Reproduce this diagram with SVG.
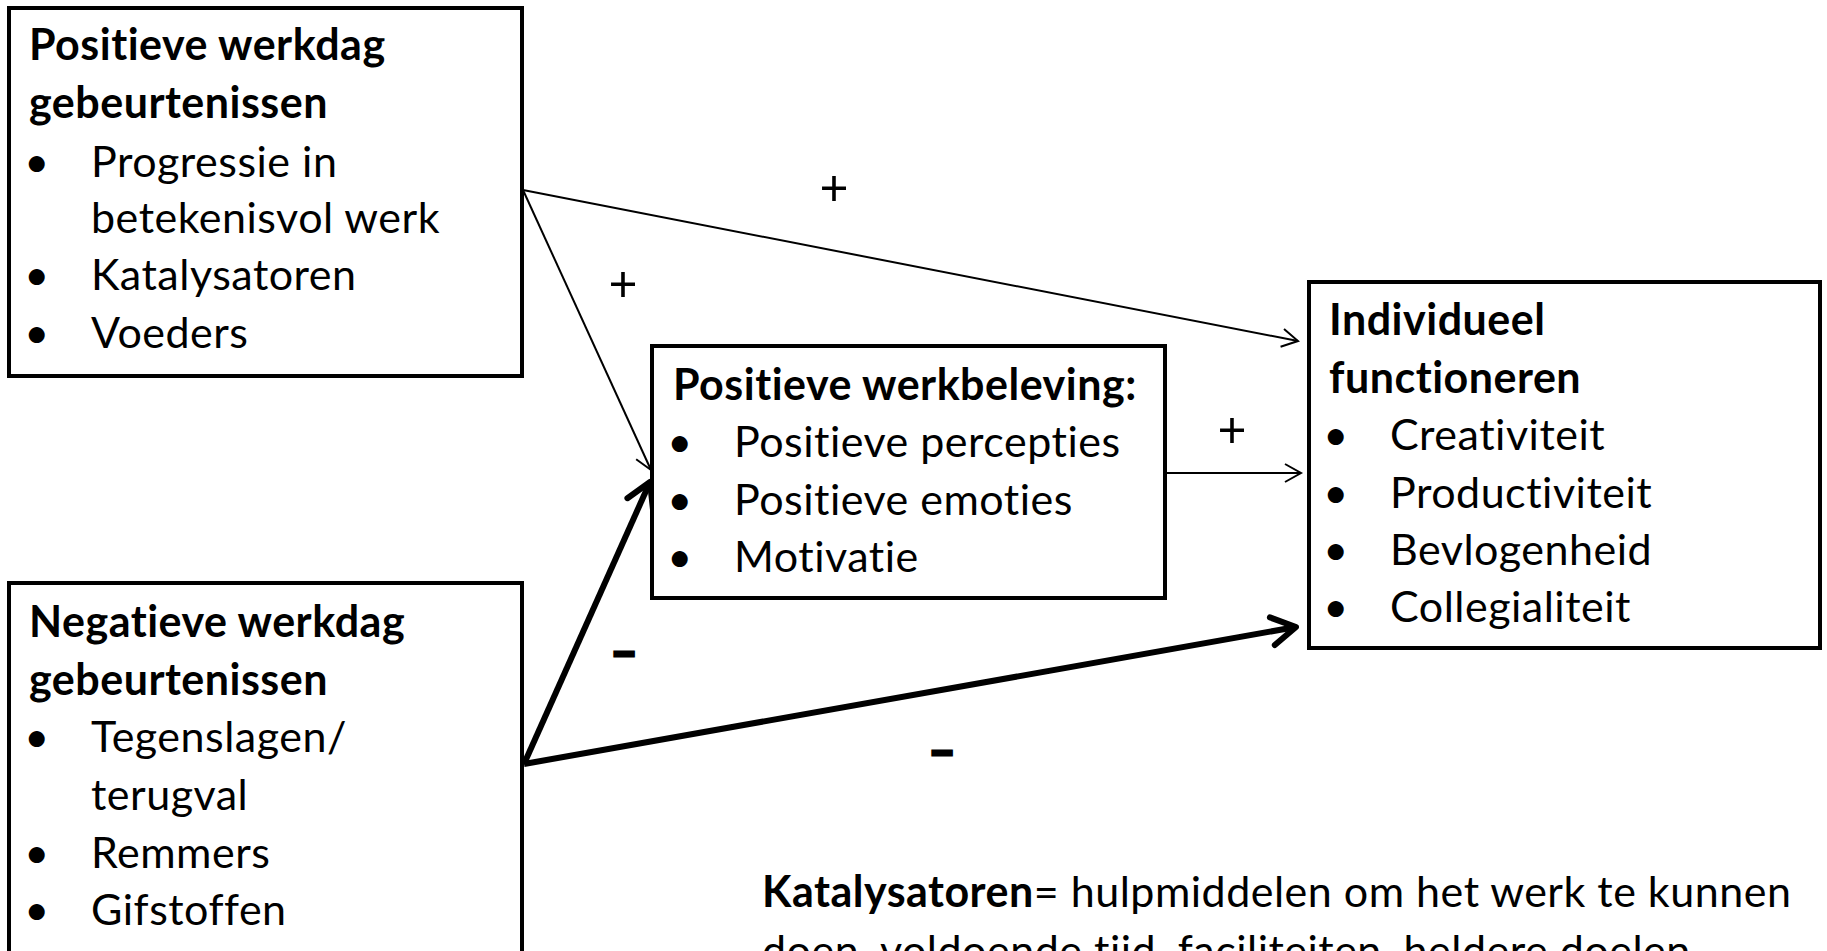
<svg xmlns="http://www.w3.org/2000/svg" width="1827" height="951" viewBox="0 0 1827 951">
<style>
.box{fill:#fff;stroke:#000;stroke-width:4}
text{font-family:Lato,"Open Sans","Liberation Sans",sans-serif;font-size:43px;letter-spacing:0.5px;fill:#000}
.b{font-weight:bold}
.bul{text-anchor:middle}
.thin{stroke:#000;stroke-width:2;fill:none}
.thick{stroke:#000;stroke-width:6;fill:none}
.lbl{font-size:50px;text-anchor:middle;letter-spacing:0}
.mn{font-size:46px;font-weight:bold;text-anchor:middle;stroke:#000;stroke-width:3;letter-spacing:0}
</style>
<defs>
<marker id="ah" markerUnits="userSpaceOnUse" markerWidth="40" markerHeight="40" viewBox="-30 -20 40 40" refX="0" refY="0" orient="auto">
<path d="M-16,-9 L0,0 L-16,9" fill="none" stroke="#000" stroke-width="2"/>
</marker>
<marker id="ahT" markerUnits="userSpaceOnUse" markerWidth="60" markerHeight="60" viewBox="-45 -30 60 60" refX="0" refY="0" orient="auto">
<path d="M-24,-14 L0,0 L-24,14" fill="none" stroke="#000" stroke-width="6" stroke-linecap="round" stroke-linejoin="round"/>
</marker>
</defs>
<rect width="1827" height="951" fill="#fff"/>
<g id="connectors">
<line class="thin" x1="523" y1="190" x2="1298" y2="341" marker-end="url(#ah)"/>
<line class="thin" x1="523" y1="190" x2="651" y2="470" marker-end="url(#ah)"/>
<line class="thin" x1="1166" y1="473" x2="1301" y2="473" marker-end="url(#ah)"/>
<line class="thick" x1="524" y1="764" x2="650" y2="482" marker-end="url(#ahT)"/>
<line class="thick" x1="524" y1="764" x2="1296" y2="627" marker-end="url(#ahT)"/>
<text class="lbl" x="834" y="205">+</text>
<text class="lbl" x="623" y="301">+</text>
<text class="lbl" x="1232" y="447">+</text>
<text class="mn" x="624" y="668">–</text>
<text class="mn" x="942" y="767">–</text>
</g>
<g id="pos-events">
<rect class="box" x="9" y="8" width="513" height="368"/>
<text class="b" x="29" y="60">Positieve werkdag</text>
<text class="b" x="29" y="118">gebeurtenissen</text>
<text class="bul" x="37" y="177">•</text><text x="91" y="177">Progressie in</text>
<text x="91" y="233">betekenisvol werk</text>
<text class="bul" x="37" y="290">•</text><text x="91" y="290">Katalysatoren</text>
<text class="bul" x="37" y="348">•</text><text x="91" y="348">Voeders</text>
</g>
<g id="neg-events">
<rect class="box" x="9" y="583" width="513" height="420"/>
<text class="b" x="29" y="637">Negatieve werkdag</text>
<text class="b" x="29" y="695">gebeurtenissen</text>
<text class="bul" x="37" y="752">•</text><text x="91" y="752">Tegenslagen/</text>
<text x="91" y="810">terugval</text>
<text class="bul" x="37" y="868">•</text><text x="91" y="868">Remmers</text>
<text class="bul" x="37" y="925">•</text><text x="91" y="925">Gifstoffen</text>
</g>
<g id="werkbeleving">
<rect class="box" x="652" y="346" width="513" height="252"/>
<text class="b" x="673" y="400">Positieve werkbeleving:</text>
<text class="bul" x="680" y="457">•</text><text x="734" y="457">Positieve percepties</text>
<text class="bul" x="680" y="515">•</text><text x="734" y="515">Positieve emoties</text>
<text class="bul" x="680" y="572">•</text><text x="734" y="572">Motivatie</text>
</g>
<g id="functioneren">
<rect class="box" x="1309" y="282" width="511" height="366"/>
<text class="b" x="1329" y="335">Individueel</text>
<text class="b" x="1329" y="393">functioneren</text>
<text class="bul" x="1336" y="450">•</text><text x="1390" y="450">Creativiteit</text>
<text class="bul" x="1336" y="508">•</text><text x="1390" y="508">Productiviteit</text>
<text class="bul" x="1336" y="565">•</text><text x="1390" y="565">Bevlogenheid</text>
<text class="bul" x="1336" y="622">•</text><text x="1390" y="622">Collegialiteit</text>
</g>
<g id="note">
<text x="762" y="907"><tspan class="b">Katalysatoren</tspan>= hulpmiddelen om het werk te kunnen</text>
<text x="762" y="966">doen, voldoende tijd, faciliteiten, heldere doelen</text>
</g>
</svg>
